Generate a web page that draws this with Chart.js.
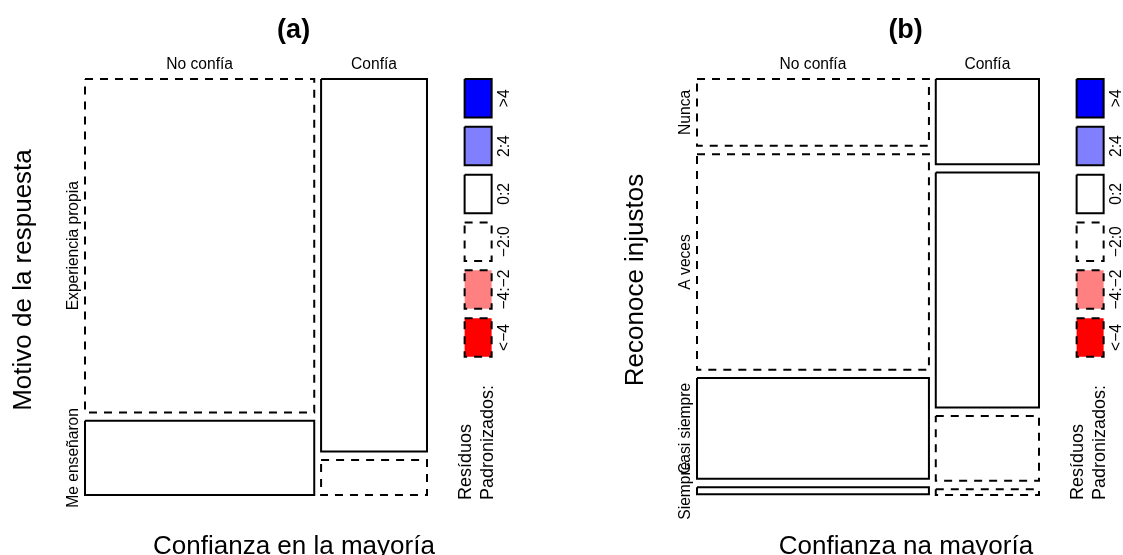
<!DOCTYPE html>
<html>
<head>
<meta charset="utf-8">
<script src="https://cdn.jsdelivr.net/npm/chart.js@4.4.1/dist/chart.umd.min.js"></script>
<style>
  html, body { margin: 0; padding: 0; background: #fff; }
  #wrap { position: relative; width: 1123px; height: 555px; }
  canvas { position: absolute; top: 0; }
</style>
</head>
<body>
<div id="wrap">
  <canvas id="mosaic-a" width="561" height="555" style="left:0"></canvas>
  <canvas id="mosaic-b" width="562" height="555" style="left:561px"></canvas>
</div>
<script>
const columnLevels = ["No confía", "Confía"];

// panel (a)
const rowLevelsA = ["Experiencia propia", "Me enseñaron"];
const columnShareA = [0.684, 0.316];
const rowShareA = [
  [0.818, 0.182],
  [0.914, 0.086],
];
const residualBinA = [
  ["-2:0", "0:2"],
  ["0:2", "-2:0"],
];

// panel (b)
const rowLevelsB = ["Nunca", "A veces", "Casi siempre", "Siempre"];
const columnShareB = [0.692, 0.308];
const rowShareB = [
  [0.171, 0.551, 0.258, 0.018],
  [0.218, 0.601, 0.166, 0.015],
];
const residualBinB = [
  ["-2:0", "-2:0", "0:2", "0:2"],
  ["0:2", "0:2", "-2:0", "-2:0"],
];

// leyenda de residuos
const legendBins = [">4", "2:4", "0:2", "-2:0", "-4:-2", "<-4"];
const legendLabels = [">4", "2:4", "0:2", "\u22122:0", "\u22124:\u22122", "<\u22124"];
const legendFill = ["#0000FF", "#8080FF", "#FFFFFF", "#FFFFFF", "#FF8080", "#FF0000"];

const GAP = 0.02;
const X_MAX = 1.2; // deja sitio para la leyenda dentro del area del grafico
const LEGEND_X = 1.11;
const LEGEND_W = 0.079;
const LEGEND_STEP = 0.115;
const LEGEND_H = 0.0925;
const FONT = "'Liberation Sans', Arial, Helvetica, sans-serif";

function binStyle(bin) {
  const k = legendBins.indexOf(bin);
  return { fill: legendFill[k], dashed: bin.startsWith("-") || bin.startsWith("<") };
}

function rectPoints(x0, x1, y0, y1) {
  return [
    { x: x0, y: y0 },
    { x: x1, y: y0 },
    { x: x1, y: y1 },
    { x: x0, y: y1 },
    { x: x0, y: y0 },
  ];
}

function rectDataset(points, style) {
  return {
    data: points,
    showLine: true,
    pointRadius: 0,
    borderColor: "#000",
    borderWidth: 2,
    borderDash: style.dashed ? [8, 7] : [],
    borderJoinStyle: "miter",
    borderCapStyle: "butt",
    backgroundColor: style.fill,
    fill: style.fill === "#FFFFFF" ? false : "shape",
    tension: 0,
    clip: false,
  };
}

// cajas del mosaico: columnas y, dentro de cada una, filas
function mosaicCells(colShare, rowShare) {
  const cells = [];
  let x = 0;
  colShare.forEach((cw, i) => {
    const w = cw * (1 - GAP * (colShare.length - 1));
    const rows = rowShare[i];
    let y = 0;
    rows.forEach((rh, j) => {
      const h = rh * (1 - GAP * (rows.length - 1));
      cells.push({ col: i, row: j, x0: x, x1: x + w, y0: y, y1: y + h });
      y += h + GAP;
    });
    x += w + GAP;
  });
  return cells;
}

function legendDatasets() {
  return legendBins.map((bin, k) => {
    const y0 = k * LEGEND_STEP;
    return rectDataset(rectPoints(LEGEND_X, LEGEND_X + LEGEND_W, y0, y0 + LEGEND_H), binStyle(bin));
  });
}

function rotatedText(ctx, text, x, y, align, baseline) {
  ctx.save();
  ctx.translate(x, y);
  ctx.rotate(-Math.PI / 2);
  ctx.textAlign = align;
  ctx.textBaseline = baseline;
  ctx.fillText(text, 0, 0);
  ctx.restore();
}

const mosaicText = {
  id: "mosaicText",
  afterDraw(chart, args, opts) {
    const { ctx, chartArea, scales } = chart;
    const xs = scales.x;
    const ys = scales.y;
    const cells = opts.cells;
    ctx.save();
    ctx.fillStyle = "#000";

    ctx.font = "bold 27px " + FONT;
    ctx.textAlign = "center";
    ctx.textBaseline = "alphabetic";
    ctx.fillText(opts.title, xs.getPixelForValue(0.61), 38);

    ctx.font = "15.6px " + FONT;
    columnLevels.forEach((label, i) => {
      const c = cells.find((cell) => cell.col === i);
      ctx.fillText(label, xs.getPixelForValue((c.x0 + c.x1) / 2), 69);
    });

    opts.rows.forEach((label, j) => {
      const c = cells.find((cell) => cell.col === 0 && cell.row === j);
      rotatedText(ctx, label, chartArea.left - 7.5, ys.getPixelForValue((c.y0 + c.y1) / 2), "center", "alphabetic");
    });

    ctx.font = "26px " + FONT;
    rotatedText(ctx, opts.yTitle, chartArea.left - 54.5, 280, "center", "alphabetic");
    ctx.textAlign = "center";
    ctx.textBaseline = "alphabetic";
    ctx.fillText(opts.xTitle, xs.getPixelForValue(0.611), 554);

    ctx.font = "15.6px " + FONT;
    const labelX = xs.getPixelForValue(LEGEND_X + LEGEND_W) + 13.5;
    legendLabels.forEach((label, k) => {
      const yc = ys.getPixelForValue(k * LEGEND_STEP + LEGEND_H / 2);
      rotatedText(ctx, label, labelX, yc, "center", "middle");
    });

    ctx.font = "18px " + FONT;
    const boxLeft = xs.getPixelForValue(LEGEND_X);
    rotatedText(ctx, "Resíduos", boxLeft + 6, chartArea.bottom + 5, "left", "alphabetic");
    rotatedText(ctx, "Padronizados:", boxLeft + 28, chartArea.bottom + 5, "left", "alphabetic");
    ctx.restore();
  },
};

function drawMosaic(canvasId, padding, colShare, rowShare, bins, text) {
  const cells = mosaicCells(colShare, rowShare);
  const datasets = cells.map((c) =>
    rectDataset(rectPoints(c.x0, c.x1, c.y0, c.y1), binStyle(bins[c.col][c.row]))
  );
  return new Chart(document.getElementById(canvasId), {
    type: "scatter",
    data: { datasets: datasets.concat(legendDatasets()) },
    options: {
      responsive: false,
      animation: false,
      events: [],
      layout: { padding },
      scales: {
        x: { type: "linear", min: 0, max: X_MAX, display: false },
        y: { type: "linear", min: 0, max: 1, reverse: true, display: false },
      },
      plugins: {
        legend: { display: false },
        tooltip: { enabled: false },
        mosaicText: Object.assign({ cells }, text),
      },
    },
    plugins: [mosaicText],
  });
}

drawMosaic("mosaic-a", { left: 85, right: 65.6, top: 79, bottom: 60 },
  columnShareA, rowShareA, residualBinA,
  { title: "(a)", rows: rowLevelsA, yTitle: "Motivo de la respuesta", xTitle: "Confianza en la mayoría" });

drawMosaic("mosaic-b", { left: 136, right: 15.6, top: 79, bottom: 60 },
  columnShareB, rowShareB, residualBinB,
  { title: "(b)", rows: rowLevelsB, yTitle: "Reconoce injustos", xTitle: "Confianza na mayoría" });
</script>
</body>
</html>
